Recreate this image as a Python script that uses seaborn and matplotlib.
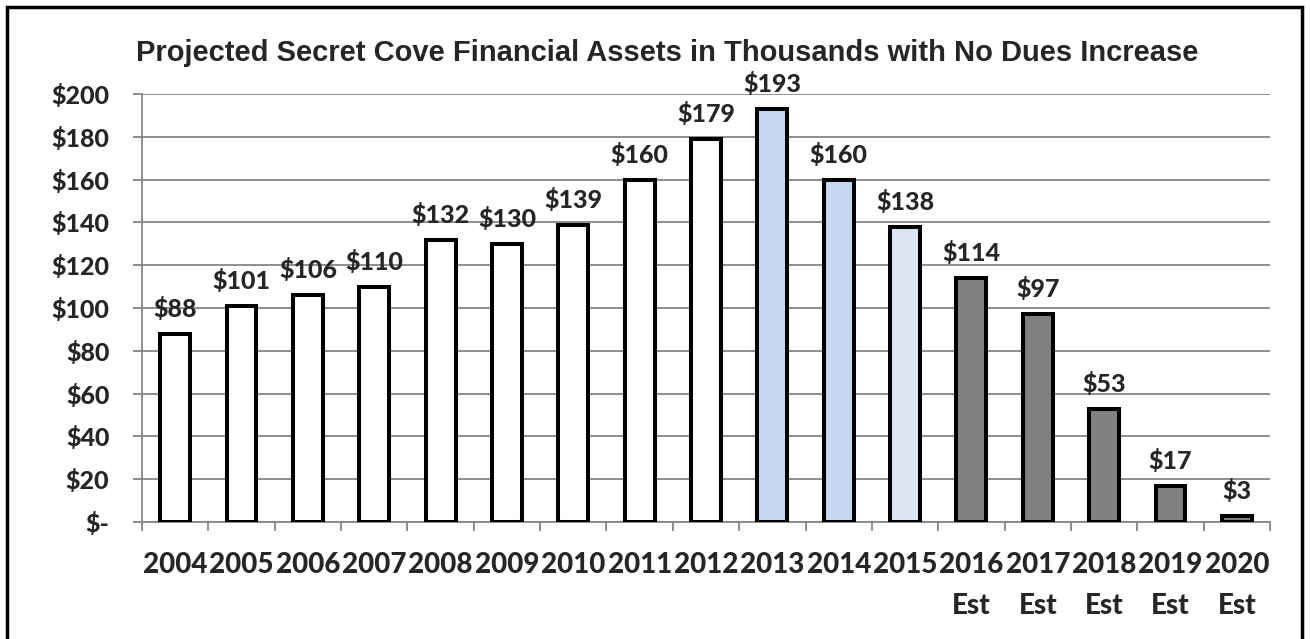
import matplotlib
matplotlib.use("Agg")
import matplotlib.pyplot as plt
import seaborn as sns
import pandas as pd
from matplotlib.patches import Rectangle

years = ["2004", "2005", "2006", "2007", "2008", "2009", "2010", "2011", "2012",
         "2013", "2014", "2015", "2016\nEst", "2017\nEst", "2018\nEst", "2019\nEst", "2020\nEst"]
assets = [88, 101, 106, 110, 132, 130, 139, 160, 179, 193, 160, 138, 114, 97, 53, 17, 3]
bar_colors = ["#FFFFFF"] * 9 + ["#C6D9F1", "#C6D9F1", "#DCE6F2"] + ["#808080"] * 5
y_ticks = [0, 20, 40, 60, 80, 100, 120, 140, 160, 180, 200]
title = "Projected Secret Cove Financial Assets in Thousands with No Dues Increase"

sns.set_style("white")
plt.rcParams["font.family"] = ["Lato", "DejaVu Sans"]

W, H = 1310, 639
fig = plt.figure(figsize=(W / 100, H / 100), dpi=100)
ax = fig.add_axes([142 / W, 1 - 522 / H, (1270 - 142) / W, (522 - 94) / H])

df = pd.DataFrame({"year": years, "assets": assets})
sns.barplot(data=df, x="year", y="assets", hue="year", palette=bar_colors,
            legend=False, width=0.45, edgecolor="black", linewidth=2.9, ax=ax,
            saturation=1, zorder=3)

ax.set_ylim(0, 200)
ax.set_xlim(-0.5, len(years) - 0.5)
ax.set_yticks(y_ticks)
ax.set_yticklabels(["$-" if v == 0 else f"${v}" for v in y_ticks],
                   fontsize=18, fontweight="black")
ax.yaxis.grid(True, color="#868686", linewidth=1.3, zorder=0)
ax.set_axisbelow(True)
ax.tick_params(axis="y", left=True, length=9 * 0.72, width=1.3, color="#868686", pad=17)

ax.set_xticks(range(len(years)))
ax.set_xticklabels(years, fontsize=20, fontweight="black", linespacing=1.7)
ax.set_xticks([i - 0.5 for i in range(len(years) + 1)], minor=True)
ax.tick_params(axis="x", which="major", bottom=False, length=0, pad=21.5)
ax.tick_params(axis="x", which="minor", bottom=True, length=9 * 0.72, width=1.3,
               color="#868686")
for lbl in ax.get_xticklabels():
    lbl.set_verticalalignment("top")

ax.set_xlabel("")
ax.set_ylabel("")
for side in ["top", "right"]:
    ax.spines[side].set_visible(False)
for side in ["left", "bottom"]:
    ax.spines[side].set_color("#868686")
    ax.spines[side].set_linewidth(1.3)

for i, v in enumerate(assets):
    ax.annotate(f"${v}", xy=(i, v), xytext=(0, 17), textcoords="offset pixels",
                ha="center", va="baseline", fontsize=18, fontweight="black")

fig.text(667 / W, 1 - 61 / H, title, ha="center", va="baseline",
         fontsize=21, fontweight="bold", family=["Liberation Sans", "DejaVu Sans"])

fig.patches.append(Rectangle((6.5 / W, -0.05), (1301.5 - 6.5) / W, 1 - 6.5 / H + 0.05,
                             transform=fig.transFigure, fill=False,
                             edgecolor="black", linewidth=2.5))

fig.savefig("out.png", dpi=100, facecolor="white")
